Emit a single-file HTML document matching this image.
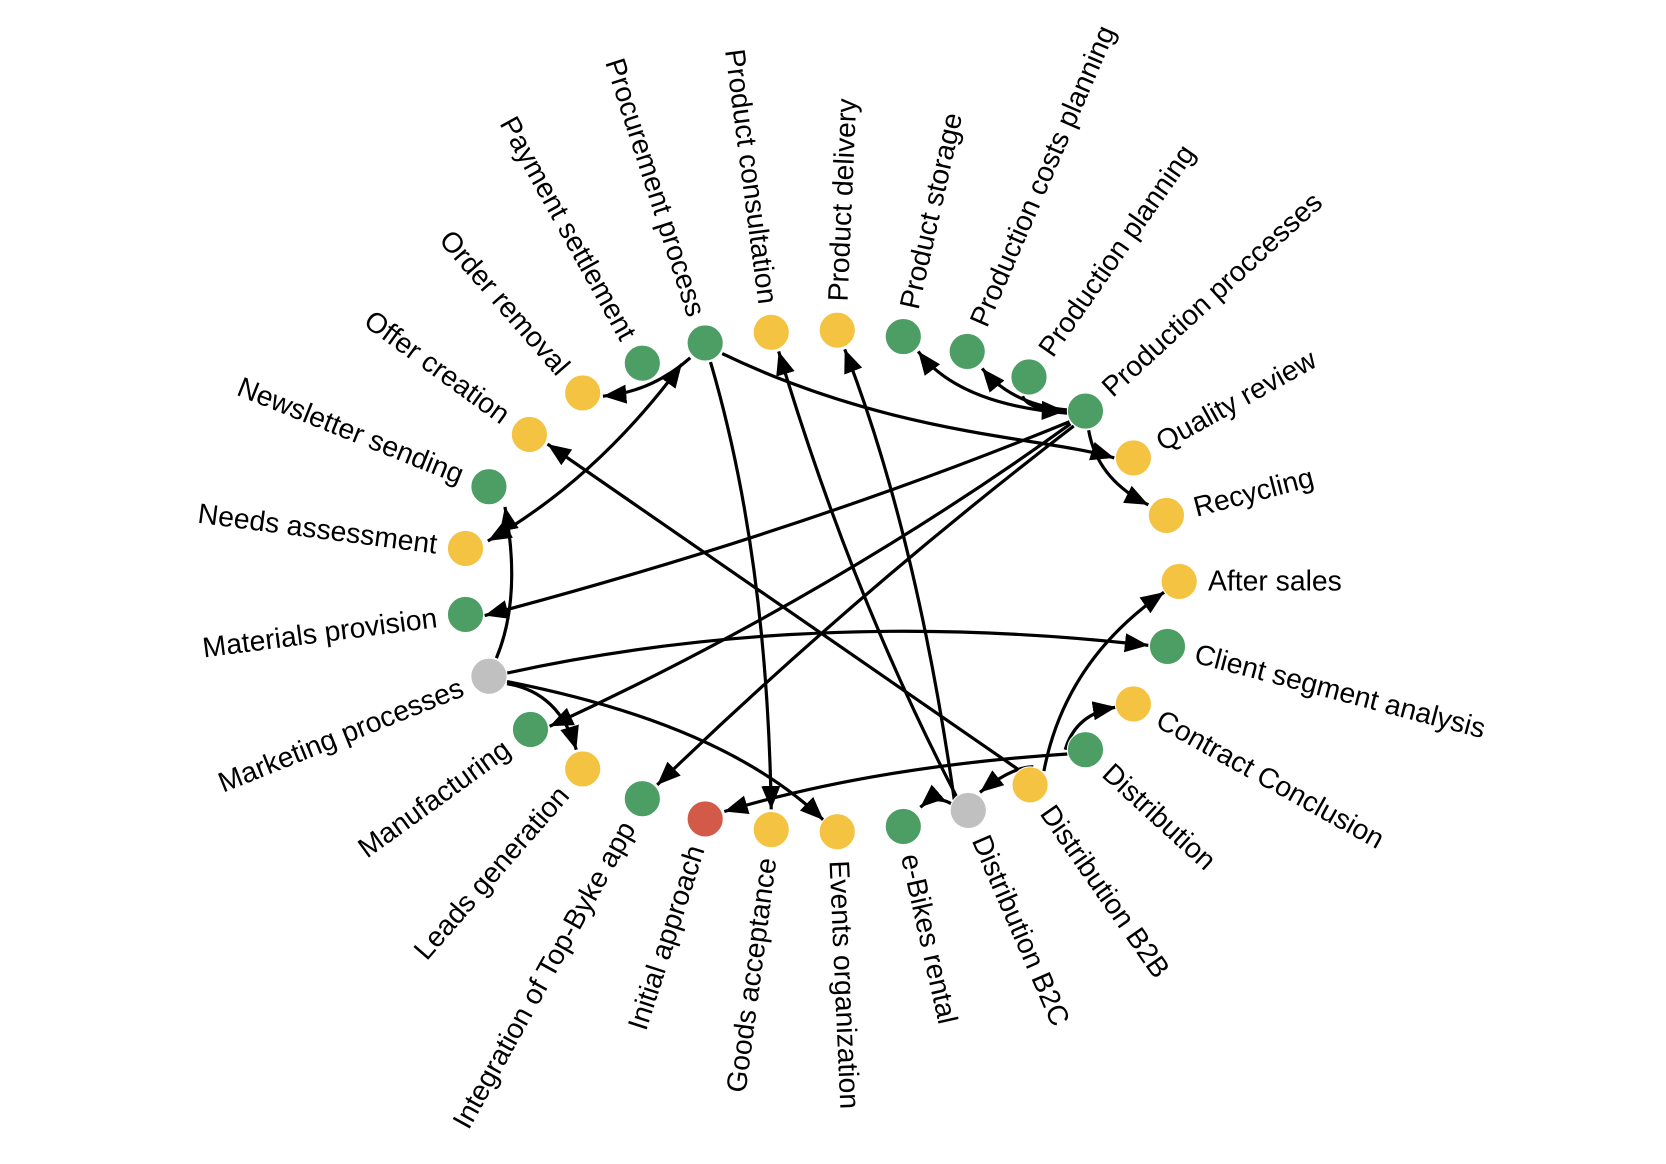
<!DOCTYPE html>
<html><head><meta charset="utf-8"><style>
html,body{margin:0;padding:0;background:#fff;}
svg{display:block;}
text{font-family:"Liberation Sans",Arial,sans-serif;font-size:26.6px;fill:#000;}
</style></head><body>
<svg width="1666" height="1164" viewBox="0 0 1564 1093" preserveAspectRatio="none" xmlns="http://www.w3.org/2000/svg">
<defs>
<marker id="a" viewBox="0 0 22 18" refX="22" refY="9" markerWidth="22" markerHeight="18" markerUnits="userSpaceOnUse" orient="auto-start-reverse"><path d="M0,0 L22,9 L0,18 z" fill="#000"/></marker>
</defs>
<g fill="none" stroke="#000" stroke-width="3" marker-end="url(#a)">
<path d="M648,336 Q612,368 566,372"/>
<path d="M458,508 Q560,450 640,342" marker-start="url(#a)"/>
<path d="M678,332 C840,410 980,410 1046,430"/>
<path d="M667,340 Q720,520 724,760"/>
<path d="M898,748 Q800,560 731,330"/>
<path d="M896,752 Q860,500 793,328"/>
<path d="M898,758 Q880,744 864,758"/>
<path d="M958,724 L514,417"/>
<path d="M1002,388 Q900,380 862,330"/>
<path d="M1002,385 Q950,380 922,346"/>
<path d="M960,372 Q965,385 1000,386"/>
<path d="M1022,404 Q1030,450 1078,474"/>
<path d="M1004,396 Q750,500 455,578"/>
<path d="M1005,398 Q780,560 516,682"/>
<path d="M1008,400 Q800,560 617,737"/>
<path d="M466,618 Q490,560 474,476"/>
<path d="M476,632 Q760,570 1078,606"/>
<path d="M476,642 Q525,650 541,704"/>
<path d="M476,640 Q680,680 773,770"/>
<path d="M980,724 Q1000,620 1093,556"/>
<path d="M1000,704 Q1010,670 1048,664"/>
<path d="M970,720 Q950,720 920,744"/>
<path d="M1002,708 Q820,720 680,762"/>
</g>
<g stroke="#fff" stroke-width="1">
<circle cx="662" cy="322" r="17" fill="#4c9e64"/>
<circle cx="724" cy="312" r="17" fill="#f5c342"/>
<circle cx="786" cy="310" r="17" fill="#f5c342"/>
<circle cx="848" cy="316" r="17" fill="#4c9e64"/>
<circle cx="908" cy="330" r="17" fill="#4c9e64"/>
<circle cx="966" cy="354" r="17" fill="#4c9e64"/>
<circle cx="1019" cy="386" r="17" fill="#4c9e64"/>
<circle cx="1064" cy="430" r="17" fill="#f5c342"/>
<circle cx="1095" cy="484" r="17" fill="#f5c342"/>
<circle cx="1107" cy="546" r="17" fill="#f5c342"/>
<circle cx="1096" cy="607" r="17" fill="#4c9e64"/>
<circle cx="1064" cy="661" r="17" fill="#f5c342"/>
<circle cx="1019" cy="704" r="17" fill="#4c9e64"/>
<circle cx="967" cy="737" r="17" fill="#f5c342"/>
<circle cx="909" cy="761" r="17" fill="#c0c0c0"/>
<circle cx="848" cy="776" r="17" fill="#4c9e64"/>
<circle cx="786" cy="781" r="17" fill="#f5c342"/>
<circle cx="724" cy="779" r="17" fill="#f5c342"/>
<circle cx="662" cy="769" r="17" fill="#d35a48"/>
<circle cx="603" cy="750" r="17" fill="#4c9e64"/>
<circle cx="547" cy="722" r="17" fill="#f5c342"/>
<circle cx="498" cy="685" r="17" fill="#4c9e64"/>
<circle cx="459" cy="635" r="17" fill="#c0c0c0"/>
<circle cx="437" cy="577" r="17" fill="#4c9e64"/>
<circle cx="437" cy="515" r="17" fill="#f5c342"/>
<circle cx="459" cy="457" r="17" fill="#4c9e64"/>
<circle cx="497" cy="408" r="17" fill="#f5c342"/>
<circle cx="547" cy="369" r="17" fill="#f5c342"/>
<circle cx="603" cy="341" r="17" fill="#4c9e64"/>
</g>
<g dominant-baseline="central">
<text transform="translate(662,322) rotate(72.1)" x="-27" text-anchor="end">Procurement process</text>
<text transform="translate(724,312) rotate(82.5)" x="-27" text-anchor="end">Product consultation</text>
<text transform="translate(786,310) rotate(-87.5)" x="27">Product delivery</text>
<text transform="translate(848,316) rotate(-77.3)" x="27">Product storage</text>
<text transform="translate(908,330) rotate(-66.6)" x="27">Production costs planning</text>
<text transform="translate(966,354) rotate(-55.1)" x="27">Production planning</text>
<text transform="translate(1019,386) rotate(-42.5)" x="27">Production proccesses</text>
<text transform="translate(1064,430) rotate(-29)" x="27">Quality review</text>
<text transform="translate(1095,484) rotate(-14.7)" x="27">Recycling</text>
<text transform="translate(1107,546) rotate(0)" x="27">After sales</text>
<text transform="translate(1096,607) rotate(14.7)" x="27">Client segment analysis</text>
<text transform="translate(1064,661) rotate(29)" x="27">Contract Conclusion</text>
<text transform="translate(1019,704) rotate(42.5)" x="27">Distribution</text>
<text transform="translate(967,737) rotate(55.1)" x="27">Distribution B2B</text>
<text transform="translate(909,761) rotate(66.6)" x="27">Distribution B2C</text>
<text transform="translate(848,776) rotate(77.3)" x="27">e-Bikes rental</text>
<text transform="translate(786,781) rotate(87.5)" x="27">Events organization</text>
<text transform="translate(724,779) rotate(-82.5)" x="-27" text-anchor="end">Goods acceptance</text>
<text transform="translate(662,769) rotate(-72.1)" x="-27" text-anchor="end">Initial approach</text>
<text transform="translate(603,750) rotate(-61)" x="-27" text-anchor="end">Integration of Top-Byke app</text>
<text transform="translate(547,722) rotate(-48.9)" x="-27" text-anchor="end">Leads generation</text>
<text transform="translate(498,685) rotate(-35.9)" x="-27" text-anchor="end">Manufacturing</text>
<text transform="translate(459,635) rotate(-21.9)" x="-27" text-anchor="end">Marketing processes</text>
<text transform="translate(437,577) rotate(-7.4)" x="-27" text-anchor="end">Materials provision</text>
<text transform="translate(437,515) rotate(7.4)" x="-27" text-anchor="end">Needs assessment</text>
<text transform="translate(459,457) rotate(21.9)" x="-27" text-anchor="end">Newsletter sending</text>
<text transform="translate(497,408) rotate(35.9)" x="-27" text-anchor="end">Offer creation</text>
<text transform="translate(547,369) rotate(48.9)" x="-27" text-anchor="end">Order removal</text>
<text transform="translate(603,341) rotate(61)" x="-27" text-anchor="end">Payment settlement</text>
</g>
</svg>
</body></html>
